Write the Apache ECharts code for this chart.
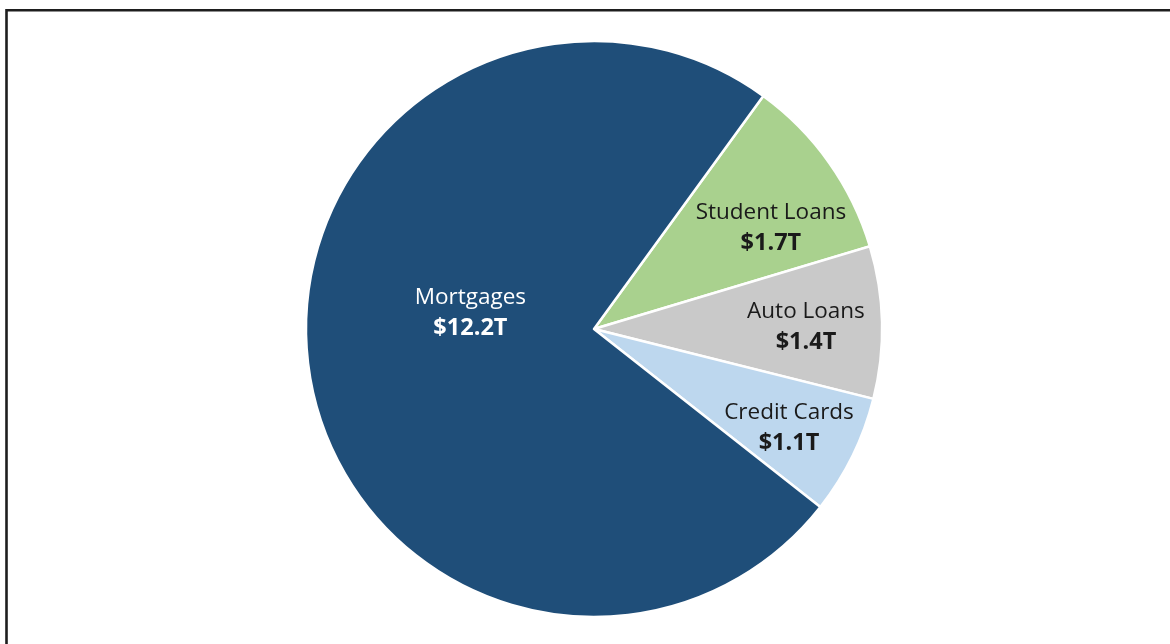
<!DOCTYPE html>
<html>
<head>
<meta charset="utf-8">
<style>
  html, body { margin: 0; padding: 0; background: #ffffff; }
  #chart { width: 1170px; height: 644px; }
</style>
<script src="https://cdn.jsdelivr.net/npm/echarts@6/dist/echarts.min.js"></script>
</head>
<body>
<div id="chart"></div>
<script>
// Data (trillions of dollars)
const categories = ['Student Loans', 'Auto Loans', 'Credit Cards', 'Mortgages'];
const values = [1.7, 1.4, 1.1, 12.2];
const colors = ['#A9D18E', '#C9C9C9', '#BDD7EE', '#1F4E79'];
const labelColors = ['#1a1a1a', '#1a1a1a', '#1a1a1a', '#ffffff'];
// per-slice label nudges from the default inside position
const labelNudge = [[57, -16], [65, 1], [63, 34], [22, -36]];

const chart = echarts.init(document.getElementById('chart'), null, { renderer: 'canvas' });

const data = categories.map((c, i) => ({
  name: c,
  value: values[i],
  itemStyle: { color: colors[i] },
  label: { color: labelColors[i], rich: {
    n: { fontSize: 22.5, fontFamily: 'Open Sans', color: labelColors[i], lineHeight: 31, fontWeight: 'normal' },
    v: { fontSize: 23.5, fontFamily: 'Open Sans', color: labelColors[i], lineHeight: 31, fontWeight: 'bold' }
  } }
}));

chart.setOption({
  animation: false,
  backgroundColor: '#ffffff',
  graphic: [{
    type: 'rect',
    silent: true,
    shape: { x: 6.5, y: 10.3, width: 1300, height: 800 },
    style: { fill: 'none', stroke: '#1e1e1e', lineWidth: 2.6 }
  }],
  series: [{
    type: 'pie',
    center: [594, 329],
    radius: [0, 288],
    startAngle: 54,
    clockwise: true,
    silent: true,
    itemStyle: { borderColor: '#ffffff', borderWidth: 2.5 },
    label: {
      show: true,
      position: 'inside',
      align: 'center',
      formatter: p => '{n|' + p.name + '}\n{v|$' + p.value.toFixed(1) + 'T}'
    },
    labelLine: { show: false },
    labelLayout: p => ({ dx: labelNudge[p.dataIndex][0], dy: labelNudge[p.dataIndex][1] }),
    data: data
  }]
});
</script>
</body>
</html>
